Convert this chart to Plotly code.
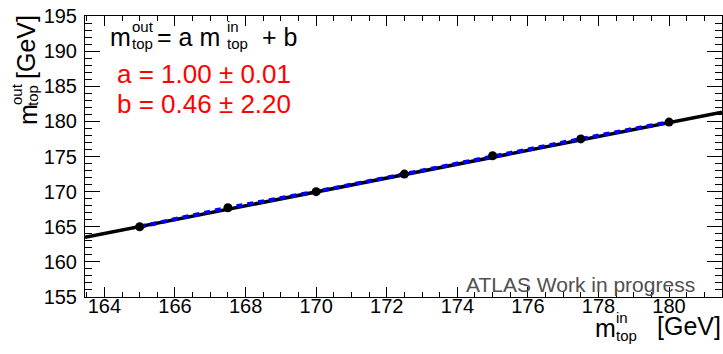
import plotly.graph_objects as go

# Data
m_in = [165.0, 167.5, 170.0, 172.5, 175.0, 177.5, 180.0]
m_out = [165.0, 167.7, 170.0, 172.5, 175.1, 177.5, 179.9]
m_out_err = [0.25, 0.25, 0.25, 0.25, 0.25, 0.25, 0.25]
fit_x = [163.45, 181.5]
fit_y = [163.5, 181.3]

x_range = [163.45, 181.5]
y_range = [155, 195]

FONT = "Liberation Sans, Arial, sans-serif"
L, R, T, B = 85, 1, 16, 57
W, H = 723, 354
PW, PH = W - L - R, H - T - B

fig = go.Figure()

fig.add_trace(go.Scatter(x=fit_x, y=fit_y, mode="lines",
                         line=dict(color="black", width=3.5), showlegend=False))
fig.add_trace(go.Scatter(x=m_in, y=m_out, mode="lines",
                         line=dict(color="#0000ff", width=4, dash="6px,5px"),
                         showlegend=False))
fig.add_trace(go.Scatter(x=m_in, y=m_out, mode="markers",
                         marker=dict(color="black", size=9, symbol="circle"),
                         error_y=dict(type="data", array=m_out_err, color="black",
                                      thickness=1.5, width=0),
                         showlegend=False))

axis_common = dict(showgrid=False, zeroline=False, showline=True, linecolor="black",
                   linewidth=1, mirror="allticks", ticks="inside", tickcolor="black",
                   tickwidth=1, automargin=False,
                   tickfont=dict(family=FONT, size=20, color="black"))

fig.update_xaxes(range=x_range, tick0=164, dtick=2, ticklen=10,
                 minor=dict(dtick=0.5, ticklen=5, ticks="inside", tickcolor="black", showgrid=False),
                 ticklabelstandoff=-9, **axis_common)
fig.update_yaxes(range=y_range, tick0=155, dtick=5, ticklen=15,
                 minor=dict(dtick=1, ticklen=7, ticks="inside", tickcolor="black", showgrid=False),
                 ticklabelstandoff=3, **axis_common)


def px_ann(text, x, y, size, color="black", xanchor="left", yanchor="middle", angle=0):
    return dict(text=text, xref="paper", yref="paper",
                x=(x - L) / PW, y=1 - (y - T) / PH, xanchor=xanchor, yanchor=yanchor,
                textangle=angle, showarrow=False, borderpad=0,
                font=dict(family=FONT, size=size, color=color))


anns = []
# equation: m_top^out = a m_top^in + b
BIG, SMALL = 25, 15
anns += [
    px_ann("m", 109, 37, BIG),
    px_ann("out", 131, 26, SMALL),
    px_ann("top", 131, 43, SMALL),
    px_ann("= a m", 156, 37, BIG),
    px_ann("in", 226, 26, SMALL),
    px_ann("top", 226, 43, SMALL),
    px_ann("+ b", 261, 37, BIG),
]
# fit results
anns += [
    px_ann("a = 1.00 ± 0.01", 116, 74, 26, "#ff0000"),
    px_ann("b = 0.46 ± 2.20", 116, 104, 26, "#ff0000"),
]
# label
anns.append(px_ann("ATLAS Work in progress", 696, 284, 21, "#505050", xanchor="right"))
# x title
anns += [
    px_ann("m", 594, 328, BIG),
    px_ann("in", 615, 317, SMALL),
    px_ann("top", 615, 335, SMALL),
    px_ann("[GeV]", 722, 326, BIG, xanchor="right"),
]
# y title (rotated)
anns += [
    px_ann("[GeV]", 26, 47, BIG, xanchor="center", angle=-90),
    px_ann("m", 28, 115, BIG, xanchor="center", angle=-90),
    px_ann("out", 16, 94, SMALL, xanchor="center", angle=-90),
    px_ann("top", 33, 96, SMALL, xanchor="center", angle=-90),
]

fig.update_layout(width=W, height=H, margin=dict(l=L, r=R, t=T, b=B, autoexpand=False),
                  paper_bgcolor="white", plot_bgcolor="white", annotations=anns,
                  font=dict(family=FONT))

fig.write_html("out.html", config={"displayModeBar": False},
               post_script="document.body.style.margin='0';document.body.style.overflow='hidden';")
